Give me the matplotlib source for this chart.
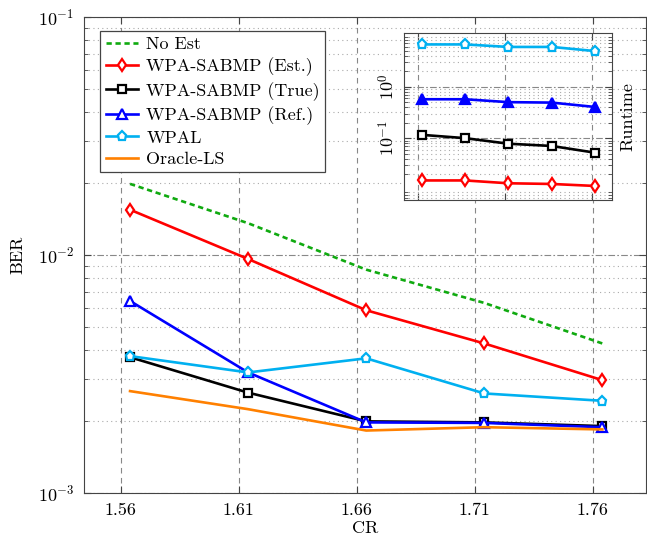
import numpy as np
import matplotlib
matplotlib.use("Agg")
import matplotlib.pyplot as plt

plt.rcParams['font.family'] = 'serif'
plt.rcParams['font.serif'] = ['cmr10']
plt.rcParams['mathtext.fontset'] = 'cm'
plt.rcParams['axes.formatter.use_mathtext'] = True
plt.rcParams['font.size'] = 13

# CR values (x axis)
cr = [1.564, 1.614, 1.664, 1.714, 1.764]

# BER curves
ber_no_est = [0.0199, 0.0136, 0.00868, 0.00629, 0.00425]
ber_est = [0.0155, 0.00962, 0.00586, 0.00425, 0.00298]
ber_true = [0.00372, 0.00264, 0.00200, 0.00198, 0.00191]
ber_ref = [0.00641, 0.00321, 0.00198, 0.00197, 0.00189]
ber_wpal = [0.00376, 0.00321, 0.00368, 0.00262, 0.00244]
ber_oracle = [0.00268, 0.00225, 0.00183, 0.00189, 0.00185]

# runtime curves (inset)
rt_est = [0.0151, 0.0151, 0.0133, 0.0129, 0.0118]
rt_true = [0.116, 0.100, 0.078, 0.0705, 0.0522]
rt_ref = [0.569, 0.569, 0.50, 0.49, 0.403]
rt_wpal = [6.6, 6.6, 5.9, 5.9, 4.9]

GREEN = '#10aa10'
CYAN = '#00b0f0'
ORANGE = '#ff8000'

fig = plt.figure(figsize=(6.47, 5.40), dpi=100)
ax = fig.add_axes([84 / 647, 47 / 540, 562 / 647, 476 / 540])

lw = 1.9
mk = dict(ms=6.5, mfc='white', mew=1.6)
ax.plot(cr, ber_no_est, color=GREEN, ls=(0, (2.0, 1.4)), lw=lw, label='No Est')
ax.plot(cr, ber_est, color='red', lw=lw, marker='d', label='WPA-SABMP (Est.)', **mk)
ax.plot(cr, ber_true, color='black', lw=lw, marker='s', label='WPA-SABMP (True)', ms=5.5, mfc='white', mew=1.6)
ax.plot(cr, ber_ref, color='blue', lw=lw, marker='^', label='WPA-SABMP (Ref.)', **mk)
ax.plot(cr, ber_wpal, color=CYAN, lw=lw, marker='p', label='WPAL', **mk)
ax.plot(cr, ber_oracle, color=ORANGE, lw=lw, label='Oracle-LS')

ax.set_yscale('log')
ax.set_ylim(1e-3, 1e-1)
ax.set_xlim(1.5445, 1.7825)
ax.set_xticks([1.56, 1.61, 1.66, 1.71, 1.76])
ax.set_xticklabels(['1.56', '1.61', '1.66', '1.71', '1.76'])
ax.set_xlabel('CR', labelpad=2)
ax.set_ylabel('BER', labelpad=9)
ax.tick_params(which='both', direction='in', top=True, right=True, colors='#444444', labelcolor='black')
ax.tick_params(which='major', length=5, pad=7)
ax.tick_params(which='minor', length=3)
ax.grid(which='major', axis='x', ls=(0, (5, 4)), color='#888888', lw=0.8)
ax.grid(which='major', axis='y', ls=(0, (6, 2, 1.5, 2)), color='#888888', lw=0.8)
ax.grid(which='minor', axis='y', ls=(0, (1, 3)), color='#aaaaaa', lw=0.8)
for s in ax.spines.values():
    s.set_color('#444444')

leg = ax.legend(loc='upper left', bbox_to_anchor=(0.029, 0.97), frameon=True, fancybox=False,
                edgecolor='#444444', framealpha=1, handlelength=1.8, borderpad=0.3,
                labelspacing=0.3, handletextpad=0.45, borderaxespad=0)
leg.get_frame().set_linewidth(0.9)

# inset with runtime
axi = fig.add_axes([404 / 647, 340 / 540, 208 / 647, 167 / 540])
axi.plot(cr, rt_est, color='red', lw=lw, marker='d', **mk)
axi.plot(cr, rt_true, color='black', lw=lw, marker='s', ms=5.5, mfc='white', mew=1.6)
axi.plot(cr, rt_ref, color='blue', lw=lw, marker='^', ms=6.5, mew=1.6)
axi.plot(cr, rt_wpal, color=CYAN, lw=lw, marker='p', **mk)
axi.set_yscale('log')
axi.set_ylim(0.0063, 11)
axi.set_xlim(1.5435, 1.7835)
axi.set_xticks([1.56, 1.66, 1.76])
axi.set_xticklabels([])
axi.set_yticks([0.1, 1])
axi.set_yticklabels([r'$10^{-1}$', r'$10^{0}$'], rotation=90, va='center')
axi.set_ylabel('Runtime', labelpad=6)
axi.yaxis.set_label_position('right')
axi.tick_params(which='both', direction='in', top=True, right=True, colors='#444444', labelcolor='black')
axi.tick_params(which='major', length=5, pad=5)
axi.tick_params(which='minor', length=3)
axi.grid(which='major', axis='x', ls=(0, (5, 4)), color='#888888', lw=0.8)
axi.grid(which='major', axis='y', ls=(0, (6, 2, 1.5, 2)), color='#888888', lw=0.8)
axi.grid(which='minor', axis='y', ls=(0, (1, 3)), color='#aaaaaa', lw=0.8)
for s in axi.spines.values():
    s.set_color('#444444')

fig.savefig('out.png', dpi=100)
